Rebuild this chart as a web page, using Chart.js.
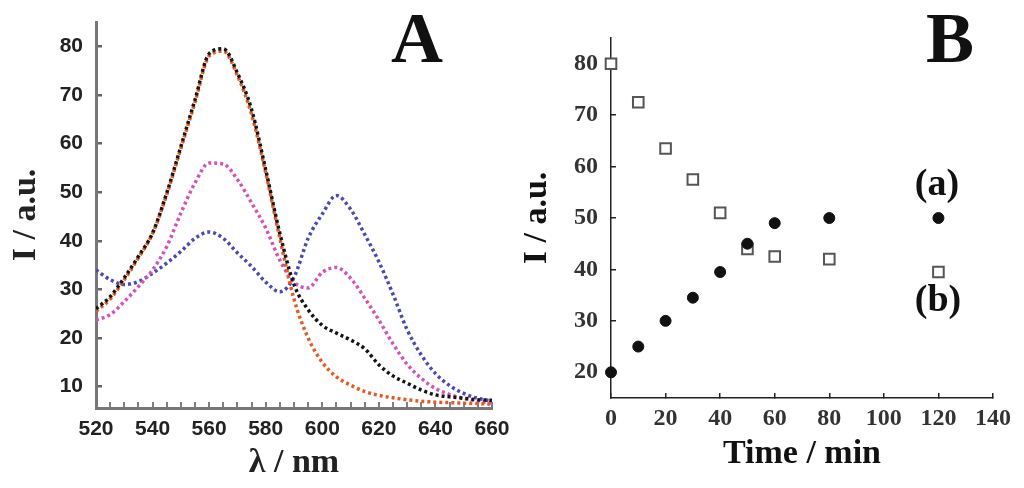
<!DOCTYPE html>
<html>
<head>
<meta charset="utf-8">
<script src="https://cdn.jsdelivr.net/npm/chart.js@4"></script>
<style>
    html, body { margin: 0; padding: 0; background: #fff; }
    .panel { position: absolute; top: 0; height: 488px; }
    #panel-a { left: 0; width: 520px; }
    #panel-b { left: 520px; width: 504px; }
</style>
</head>
<body>
<div class="panel" id="panel-a"><canvas id="chart-a"></canvas></div>
<div class="panel" id="panel-b"><canvas id="chart-b"></canvas></div>
<script>
'use strict';

// Panel A: emission spectra, one value every 5 nm.
const wavelengths = [520, 525, 530, 535, 540, 545, 550, 555, 560, 565, 570, 575, 580, 585, 590,
    595, 600, 605, 610, 615, 620, 625, 630, 635, 640, 645, 650, 655, 660];
const blackSpectrum = [26, 28.5, 32.4, 36.8, 41.6, 49.8, 59.4, 69, 78.5, 79.5, 74.5, 67, 54.6, 41.5, 31,
    25.8, 22.6, 21, 19.6, 17.8, 14.5, 12.2, 10.7, 9.3, 8.3, 7.9, 7.6, 7.3, 7.2];
const orangeSpectrum = [25.5, 28, 32, 36.5, 41.5, 49.5, 59, 68.5, 78, 79, 74, 66, 54, 40.5, 28,
    20, 15, 12, 10.3, 9, 8.2, 7.7, 7.3, 7, 6.8, 6.7, 6.6, 6.5, 6.4];
const magentaSpectrum = [23.7, 24.8, 27.5, 30.6, 34, 38.8, 45.7, 51.9, 56, 55.8, 52.6, 47.8, 42.6, 36, 31.5,
    30.3, 33.5, 34.5, 32.3, 28.2, 23.7, 18.8, 14.6, 11.7, 9.6, 8.4, 7.6, 7, 6.6];
const blueSpectrum = [34, 32, 31, 31.6, 33.3, 35.4, 37.8, 40.5, 41.8, 40.5, 37.5, 34.7, 31.5, 29.5, 32.5,
    40.5, 45.5, 49.3, 46.5, 41.3, 35.7, 29, 21.7, 16.5, 12.7, 10.2, 8.6, 7.6, 7];

// Panel B: intensity against time.
const times = [0, 10, 20, 30, 40, 50, 60, 80, 120];
const seriesA = [20, 25, 30, 34.5, 39.5, 45, 49, 50, 50];
const seriesB = [80, 72.5, 63.5, 57.5, 51, 44, 42.5, 42, 39.5];

const aTicksX = [520, 540, 560, 580, 600, 620, 640, 660];
const aTicksY = [10, 20, 30, 40, 50, 60, 70, 80];
const bTicksX = [0, 20, 40, 60, 80, 100, 120, 140];
const bTicksY = [20, 30, 40, 50, 60, 70, 80];

const SERIF = "'Liberation Serif', 'Times New Roman', serif";
const SANS = "'Liberation Sans', Arial, sans-serif";

/**
 * Pair x values with y values for a linear x scale.
 *
 * @param {Array} xs The x values.
 * @param {Array} ys The y values.
 * @return {Array}
 */
const toPoints = (xs, ys) => xs.map((x, i) => ({x: x, y: ys[i]}));

/**
 * Dotted spectrum dataset.
 *
 * @param {Array} values The intensities.
 * @param {String} colour The colour.
 * @param {Number} order Draw order.
 * @return {Object}
 */
const spectrum = (values, colour, order) => ({
    data: toPoints(wavelengths, values),
    borderColor: colour,
    borderWidth: 3.5,
    borderDash: [3, 3],
    pointRadius: 0,
    cubicInterpolationMode: 'monotone',
    fill: false,
    order: order,
});

/**
 * Plugin writing free text on top of a chart.
 *
 * @param {Array} labels The labels [text, x, y, font].
 * @return {Object}
 */
const textPlugin = (labels) => ({
    id: 'panelText',
    afterDraw: (chart) => {
        const ctx = chart.ctx;
        ctx.save();
        ctx.fillStyle = '#111';
        ctx.textAlign = 'center';
        ctx.textBaseline = 'alphabetic';
        labels.forEach(([text, x, y, font]) => {
            ctx.font = font;
            ctx.fillText(text, x, y);
        });
        ctx.restore();
    },
});

// Use a fixed list of tick values.
const setTicks = (list) => (scale) => {
    scale.ticks = list.map((v) => ({value: v}));
};

// Fix the size of an axis box and drop the label overflow padding.
const fixSize = (key, size) => (scale) => {
    scale[key] = size;
    scale.paddingTop = 0;
    scale.paddingBottom = 0;
    scale.paddingLeft = 0;
    scale.paddingRight = 0;
};

const renderSpectra = () => {
    new Chart(document.getElementById('chart-a'), {
        type: 'line',
        data: {
            datasets: [
                spectrum(blackSpectrum, '#151515', 1),
                spectrum(orangeSpectrum, '#e35a25', 2),
                spectrum(magentaSpectrum, '#d452b6', 3),
                spectrum(blueSpectrum, '#4a4ab6', 4),
            ],
        },
        options: {
            responsive: true,
            maintainAspectRatio: false,
            animation: false,
            layout: {padding: {top: 22, right: 28, bottom: 0, left: 0}},
            plugins: {legend: {display: false}, tooltip: {enabled: false}},
            scales: {
                x: {
                    type: 'linear',
                    min: 520,
                    max: 660,
                    afterFit: fixSize('height', 80),
                    ticks: {
                        stepSize: 5,
                        autoSkip: false,
                        maxRotation: 0,
                        padding: 15,
                        color: '#222',
                        font: {family: SANS, size: 21, weight: 'bold'},
                        callback: (v) => (aTicksX.includes(v) ? v : ''),
                    },
                    grid: {drawOnChartArea: false, tickLength: -6, color: '#808080', lineWidth: 2},
                    border: {color: '#777', width: 3},
                    title: {
                        display: true,
                        text: 'λ / nm',
                        color: '#222',
                        font: {family: SERIF, size: 34, weight: 'bold'},
                        padding: {top: 0, bottom: 4},
                    },
                },
                y: {
                    min: 5.6,
                    max: 85,
                    afterFit: fixSize('width', 96),
                    afterBuildTicks: setTicks(aTicksY),
                    ticks: {
                        padding: 19,
                        color: '#222',
                        font: {family: SANS, size: 21, weight: 'bold'},
                    },
                    grid: {drawOnChartArea: false, tickLength: -6, color: '#666', lineWidth: 2.5},
                    border: {color: '#777', width: 3},
                    title: {
                        display: true,
                        text: 'I / a.u.',
                        color: '#222',
                        font: {family: SERIF, size: 34, weight: 'bold'},
                        padding: {top: 6, bottom: 0},
                    },
                },
            },
        },
        plugins: [textPlugin([['A', 417, 62, `bold 72px ${SERIF}`]])],
    });
};

const renderKinetics = () => {
    new Chart(document.getElementById('chart-b'), {
        type: 'scatter',
        data: {
            datasets: [
                {
                    data: toPoints(times, seriesA),
                    pointStyle: 'circle',
                    pointRadius: 5.5,
                    backgroundColor: '#111',
                    borderColor: '#111',
                    borderWidth: 1,
                    clip: false,
                },
                {
                    data: toPoints(times, seriesB),
                    pointStyle: 'rect',
                    pointRadius: 7.5,
                    backgroundColor: '#fff',
                    borderColor: '#555',
                    borderWidth: 2,
                    clip: false,
                },
            ],
        },
        options: {
            responsive: true,
            maintainAspectRatio: false,
            animation: false,
            layout: {padding: {top: 38, right: 31, bottom: 0, left: 0}},
            plugins: {legend: {display: false}, tooltip: {enabled: false}},
            scales: {
                x: {
                    type: 'linear',
                    min: 0,
                    max: 140,
                    afterFit: fixSize('height', 90),
                    afterBuildTicks: setTicks(bTicksX),
                    ticks: {
                        autoSkip: false,
                        maxRotation: 0,
                        padding: 11,
                        color: '#333',
                        font: {family: SERIF, size: 24, weight: 'bold'},
                    },
                    grid: {drawOnChartArea: false, tickLength: -5, color: '#222', lineWidth: 1.5},
                    border: {color: '#222', width: 1.5},
                    title: {
                        display: true,
                        text: 'Time / min',
                        color: '#111',
                        font: {family: SERIF, size: 34, weight: 'bold'},
                        padding: {top: 0, bottom: 13},
                    },
                },
                y: {
                    min: 15,
                    max: 85,
                    afterFit: fixSize('width', 91),
                    afterBuildTicks: setTicks(bTicksY),
                    ticks: {
                        padding: 18,
                        color: '#333',
                        font: {family: SERIF, size: 24, weight: 'bold'},
                    },
                    grid: {drawOnChartArea: false, tickLength: -5, color: '#222', lineWidth: 1.5},
                    border: {color: '#222', width: 1.5},
                    title: {
                        display: true,
                        text: 'I / a.u.',
                        color: '#111',
                        font: {family: SERIF, size: 34, weight: 'bold', lineHeight: 1},
                        padding: {top: 0, bottom: 0},
                    },
                },
            },
        },
        plugins: [textPlugin([
            ['B', 430, 62, `bold 72px ${SERIF}`],
            ['(a)', 417, 195, `bold 38px ${SERIF}`],
            ['(b)', 418, 311, `bold 38px ${SERIF}`],
        ])],
    });
};

renderSpectra();
renderKinetics();
</script>
</body>
</html>
